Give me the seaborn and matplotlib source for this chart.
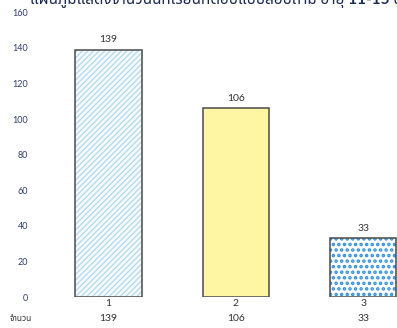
import pandas as pd
import matplotlib.pyplot as plt
import matplotlib.transforms as mtransforms
from matplotlib.patches import Rectangle
import seaborn as sns

# data
categories = ["1", "2", "3"]
values = [139, 106, 33]
row_label = "จำนวน"
title = "แผนภูมิแสดงจำนวนนักเรียนที่ตอบแบบสอบถาม อายุ 11-15 ปี"

df = pd.DataFrame({"group": categories, "count": values})

sns.set_style("white")
plt.rcParams["font.family"] = ["Lato", "Noto Sans Thai", "DejaVu Sans"]
plt.rcParams["hatch.linewidth"] = 0.9

fig = plt.figure(figsize=(3.97, 3.28), dpi=100)
ax = fig.add_axes([0.113, 0.094, 0.887, 0.869])

sns.barplot(data=df, x="group", y="count", order=categories,
            color="white", width=0.52, ax=ax)

# fills: hatch colour follows the edge colour, so the outline is drawn on top
faces = ["#f4fafd", "#fff6a3", "#ffffff"]
hatches = ["//////", None, "..."]
hatch_cols = ["#b3d8ec", "#fff6a3", "#2f8fe4"]
hatch_lw = [0.9, 0.9, 1.7]
for bar, fc, h, hc, hlw in zip(ax.patches, faces, hatches, hatch_cols, hatch_lw):
    bar.set_facecolor(fc)
    bar.set_edgecolor(hc)
    bar.set_linewidth(0)
    if h:
        bar.set_hatch(h)
        if hasattr(bar, "set_hatch_linewidth"):
            bar.set_hatch_linewidth(hlw)
    ax.add_patch(Rectangle((bar.get_x(), bar.get_y()), bar.get_width(),
                           bar.get_height(), fill=False, edgecolor="#4a4a4a",
                           linewidth=1.1, zorder=3))

for i, v in enumerate(values):
    ax.text(i, v + 3, str(v), ha="center", va="bottom", fontsize=7.5,
            color="#333333")

ax.set_ylim(0, 160)
ax.set_xlim(-0.5, 2.265)
ax.set_yticks(range(0, 161, 20))
ax.set_xlabel("")
ax.set_ylabel("")
ax.tick_params(axis="y", length=0, labelsize=6.5, labelcolor="#2f3d6e", pad=12)
ax.tick_params(axis="x", length=0, labelsize=7.5, labelcolor="#333333", pad=1)
sns.despine(ax=ax, left=True, bottom=True, top=True, right=True)

# bottom row with the counts
trans = mtransforms.blended_transform_factory(ax.transData, fig.transFigure)
for i, v in enumerate(values):
    ax.text(i, 0.03, str(v), transform=trans, ha="center", va="center",
            fontsize=7.5, color="#333333")
fig.text(0.052, 0.03, row_label, ha="center", va="center", fontsize=6,
         color="#333333")

# title, cut off at the top edge like in the picture
fig.text(0.545, 1.003, title, ha="center", va="center", fontsize=11,
         fontweight="bold", color="#1c2a55")

fig.savefig("out.png", dpi=100)
